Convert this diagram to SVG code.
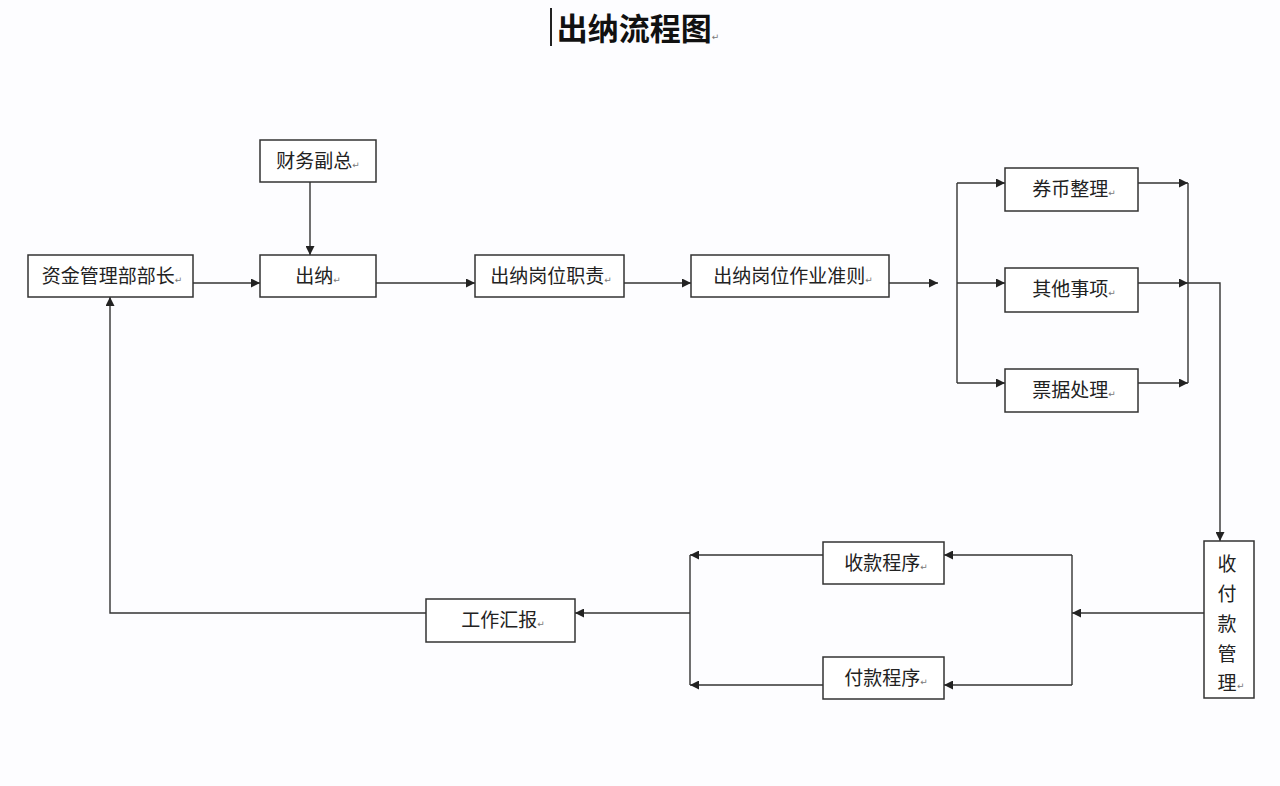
<svg xmlns="http://www.w3.org/2000/svg" width="1280" height="786" viewBox="0 0 1280 786">
<defs>
<marker id="ah" viewBox="0 0 10 10" refX="10" refY="5" markerWidth="10" markerHeight="9" markerUnits="userSpaceOnUse" orient="auto">
<path d="M0,0 L10,5 L0,10 Z" fill="#222"/>
</marker>
<style>
.box{fill:#fff;stroke:#333;stroke-width:1.5}
.lbl{font-family:"Noto Sans CJK SC","Noto Sans",sans-serif;font-size:19px;fill:#222;text-anchor:middle}
.rm{font-family:"DejaVu Sans",sans-serif;font-size:9px;fill:#777}
.ln{fill:none;stroke:#333;stroke-width:1.4}
.ar{fill:none;stroke:#333;stroke-width:1.4;marker-end:url(#ah)}
</style>
</defs>
<rect width="1280" height="786" fill="#fdfdff"/>
<g id="title">
<line x1="551" y1="8" x2="551" y2="46" stroke="#222" stroke-width="2"/>
<text x="638" y="40" font-family="Noto Sans CJK SC,sans-serif" font-size="31" font-weight="bold" fill="#111" text-anchor="middle">出纳流程图<tspan class="rm" font-weight="normal" font-size="10">↵</tspan></text>
</g>
<g id="connectors">
<path class="ar" d="M310,182 V255"/>
<path class="ar" d="M193,283 H260"/>
<path class="ar" d="M376,283 H475"/>
<path class="ar" d="M624,283 H691"/>
<path class="ar" d="M889,283 H938"/>
<path class="ln" d="M957,183 V383"/>
<path class="ar" d="M957,183 H1005"/>
<path class="ar" d="M957,283 H1005"/>
<path class="ar" d="M957,383 H1005"/>
<path class="ar" d="M1138,183 H1188"/>
<path class="ar" d="M1138,283 H1188"/>
<path class="ar" d="M1138,383 H1188"/>
<path class="ln" d="M1188,183 V383"/>
<path class="ar" d="M1188,283 H1220 V541"/>
<path class="ar" d="M1204,613 H1072"/>
<path class="ln" d="M1072,555 V685"/>
<path class="ar" d="M1072,555 H944"/>
<path class="ar" d="M1072,685 H944"/>
<path class="ar" d="M823,555 H690"/>
<path class="ar" d="M823,685 H690"/>
<path class="ln" d="M690,555 V685"/>
<path class="ar" d="M690,613 H575"/>
<path class="ar" d="M426,613 H110 V297"/>
</g>
<g id="n-cfz"><rect class="box" x="260" y="140" width="116" height="42"/><text class="lbl" x="318" y="168">财务副总<tspan class="rm">↵</tspan></text></g>
<g id="n-zj"><rect class="box" x="28" y="255" width="165" height="42"/><text class="lbl" x="112" y="283">资金管理部部长<tspan class="rm">↵</tspan></text></g>
<g id="n-cn"><rect class="box" x="260" y="255" width="116" height="42"/><text class="lbl" x="318" y="283">出纳<tspan class="rm">↵</tspan></text></g>
<g id="n-zz"><rect class="box" x="475" y="255" width="149" height="42"/><text class="lbl" x="551" y="283">出纳岗位职责<tspan class="rm">↵</tspan></text></g>
<g id="n-zy"><rect class="box" x="691" y="255" width="198" height="42"/><text class="lbl" x="793" y="283">出纳岗位作业准则<tspan class="rm">↵</tspan></text></g>
<g id="n-qb"><rect class="box" x="1005" y="168" width="133" height="43"/><text class="lbl" x="1074" y="196">券币整理<tspan class="rm">↵</tspan></text></g>
<g id="n-qt"><rect class="box" x="1005" y="268" width="133" height="44"/><text class="lbl" x="1074" y="296">其他事项<tspan class="rm">↵</tspan></text></g>
<g id="n-pj"><rect class="box" x="1005" y="369" width="133" height="43"/><text class="lbl" x="1074" y="397">票据处理<tspan class="rm">↵</tspan></text></g>
<g id="n-sfk"><rect class="box" x="1204" y="541" width="50" height="157"/>
<text class="lbl" x="1227" y="571">收</text>
<text class="lbl" x="1227" y="601">付</text>
<text class="lbl" x="1227" y="631">款</text>
<text class="lbl" x="1227" y="661">管</text>
<text class="lbl" x="1227" y="690">理</text>
<text class="rm" x="1237" y="689">↵</text>
</g>
<g id="n-sk"><rect class="box" x="823" y="542" width="121" height="42"/><text class="lbl" x="886" y="570">收款程序<tspan class="rm">↵</tspan></text></g>
<g id="n-fk"><rect class="box" x="823" y="657" width="121" height="42"/><text class="lbl" x="886" y="685">付款程序<tspan class="rm">↵</tspan></text></g>
<g id="n-gz"><rect class="box" x="426" y="599" width="149" height="43"/><text class="lbl" x="503" y="627">工作汇报<tspan class="rm">↵</tspan></text></g>
</svg>
